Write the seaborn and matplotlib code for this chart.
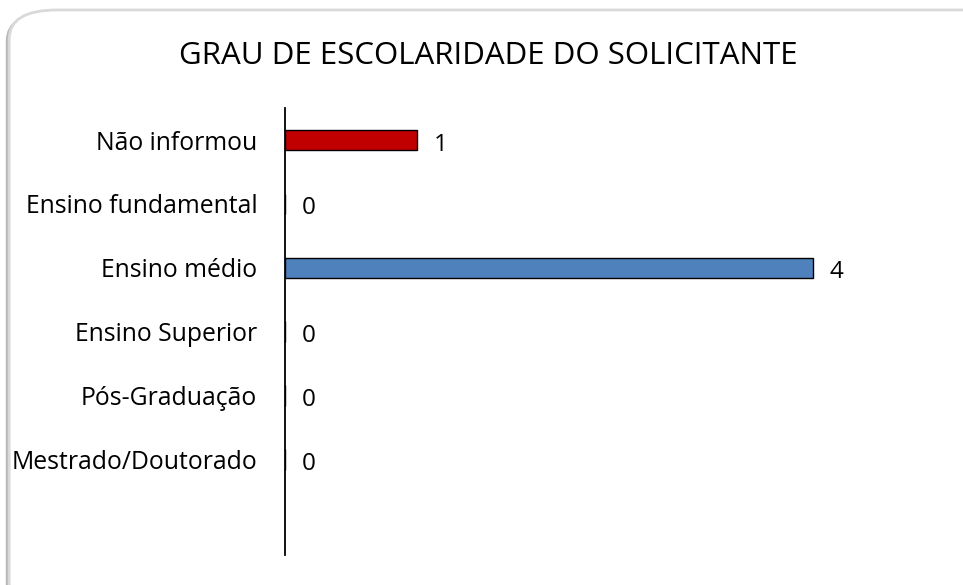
import matplotlib
matplotlib.use("Agg")
import matplotlib.pyplot as plt
from matplotlib.patches import FancyBboxPatch
import pandas as pd
import seaborn as sns

# --------------------------------------------------
# DATA
# --------------------------------------------------

categories = [
    "Não informou",
    "Ensino fundamental",
    "Ensino médio",
    "Ensino Superior",
    "Pós-Graduação",
    "Mestrado/Doutorado",
]
values = [1, 0, 4, 0, 0, 0]
bar_colors = ["#C00000", "#4F81BD", "#4F81BD", "#4F81BD", "#4F81BD", "#4F81BD"]

title = "GRAU DE ESCOLARIDADE DO SOLICITANTE"

# --------------------------------------------------
# PLOT
# --------------------------------------------------

sns.set_style("white")
plt.rcParams["font.family"] = ["Open Sans", "DejaVu Sans"]
plt.rcParams["text.color"] = "black"
plt.rcParams["ytick.color"] = "black"

df = pd.DataFrame({"Categoria": categories, "Valor": values})

fig = plt.figure(figsize=(9.63, 5.85), dpi=100)

# rounded frame with a soft shadow
shadow = FancyBboxPatch(
    (0.006, -0.05), 1.05, 1.03,
    boxstyle="round,pad=0,rounding_size=0.05",
    transform=fig.transFigure, facecolor="#8a8a8a", edgecolor="none",
    alpha=0.6, zorder=0,
)
frame = FancyBboxPatch(
    (0.0095, -0.045), 1.05, 1.028,
    boxstyle="round,pad=0,rounding_size=0.05",
    transform=fig.transFigure, facecolor="white", edgecolor="#d9d9d9",
    linewidth=2.0, zorder=1,
)
fig.patches.extend([shadow, frame])

ax = fig.add_axes([0.296, 0.051, 0.617, 0.764])
ax.set_facecolor("none")
ax.set_zorder(2)

sns.barplot(
    data=df, y="Categoria", x="Valor", hue="Categoria",
    palette=bar_colors, saturation=1, orient="h", width=0.32,
    edgecolor="black", linewidth=1.0, legend=False, ax=ax,
)

ax.set_xlim(0, 4.5)
ax.set_ylim(6.5, -0.5)

for i, v in enumerate(values):
    ax.annotate(
        str(v), xy=(v, i), xytext=(12, -1), textcoords="offset points",
        ha="left", va="center_baseline", fontsize=17.5,
    )

sns.despine(ax=ax, top=True, right=True, bottom=True, left=False)
ax.spines["left"].set_color("black")
ax.spines["left"].set_linewidth(1.3)
ax.set_xticks([])
ax.tick_params(axis="y", length=0, pad=20, labelsize=17.8, labelcolor="black")
ax.set_xlabel("")
ax.set_ylabel("")

fig.text(0.507, 0.905, title, ha="center", va="center", fontsize=22.5)

fig.savefig("out.png", dpi=100)
